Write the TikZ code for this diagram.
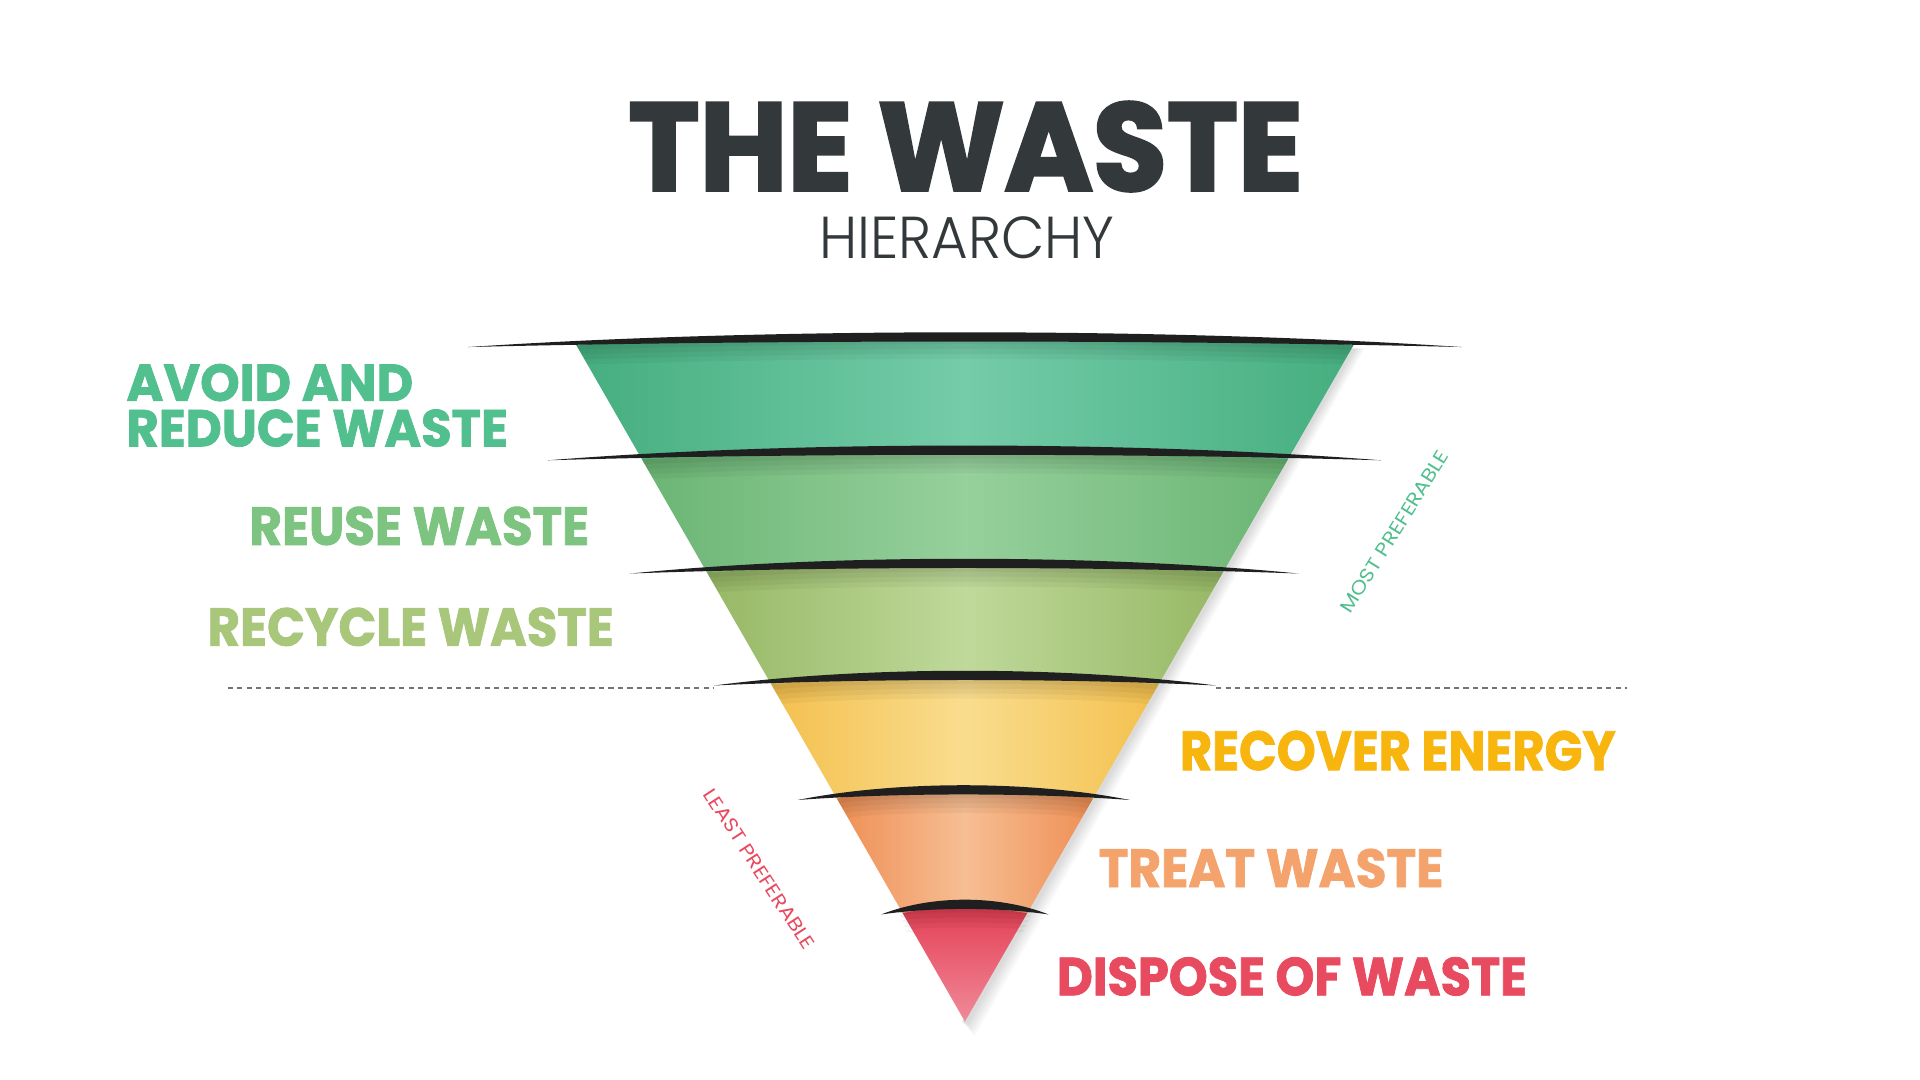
\documentclass[tikz,border=0pt]{standalone}
\usepackage{fontspec}
\usepackage{graphicx}
\setmainfont{Poppins}[BoldFeatures={FakeBold=1.5}]
\usetikzlibrary{calc}
\definecolor{tdark}{HTML}{33393B}
\definecolor{cA}{HTML}{52BF8F}\definecolor{cB}{HTML}{7CC47F}\definecolor{cC}{HTML}{A8C77A}
\definecolor{cD}{HTML}{F7B50D}\definecolor{cE}{HTML}{F3A36B}\definecolor{cF}{HTML}{E84A5F}
\newcommand{\fit}[3]{\resizebox{#1mm}{#2mm}{#3}}
\tikzset{lbl/.style={inner sep=0pt,anchor=north west,font=\bfseries},
 lens/.style={fill=black!88,draw=none},
 band/.style={draw=none}}
\begin{document}
\begin{tikzpicture}[x=0.1mm,y=-0.1mm]
\useasboundingbox (0,0) rectangle (1560,877.5);
\fill[white] (0,0) rectangle (1560,877.5);
\def\lx#1{468+0.574545*(#1-280)}
\def\rx#1{1100-0.574545*(#1-280)}
% soft shadow
\foreach \k in {1,...,6}{
 \fill[black,opacity=0.025] (1100+\k*1.5,283) -- (786+\k,830+\k*2) -- (782,830) -- (1098,283) -- cycle;}
% bands
\foreach \ya/\yb/\cl/\cm [count=\i] in {
 280/373/45AE7F/74CCA8,
 373/465/6BB574/96D09C,
 465/556/97B865/BFD99A,
 556/649/F4C04E/F9DD8E,
 649/742/EF8F55/F6BE93,
 742/830/E43F55/F08A98}{
 \definecolor{bl}{HTML}{\cl}\definecolor{bm}{HTML}{\cm}
 \ifnum\i=6
 \shade[band,top color=bl,bottom color=bm]
   ({\lx{\ya}},\ya) .. controls (760,\ya-6) and (800,\ya-6) .. ({\rx{\ya}},\ya) -- (784,830) -- cycle;
 \else
 \shade[band,left color=bl,right color=bl,middle color=bm]
   ({\lx{\ya}},\ya) .. controls (700,\ya-8) and (870,\ya-8) .. ({\rx{\ya}},\ya) -- ({\rx{\yb}},\yb) -- ({\lx{\yb}},\yb) -- cycle;
 \fi
 \foreach \s in {4,8,12,16}{
 \fill[black,opacity=0.04] ({\lx{\ya}},\ya) .. controls (700,\ya-6) and (870,\ya-6) .. ({\rx{\ya}},\ya) -- ({\rx{\ya+\s}},\ya+\s) .. controls (870,\ya+\s-6) and (700,\ya+\s-6) .. ({\lx{\ya+\s}},\ya+\s) -- cycle;}
}
% lenses
\foreach \a/\b/\y/\n in {380/1188/282/l1,445/1122/374/l2,512/1055/466/l3,580/988/557/l4,648/918/650/l5,716/852/743/l6}{
 \fill[lens] (\a,\y) .. controls ({\a+(\b-\a)*0.3},\y-16) and ({\b-(\b-\a)*0.3},\y-16) .. (\b,\y)
   .. controls ({\b-(\b-\a)*0.3},\y-6) and ({\a+(\b-\a)*0.3},\y-6) .. cycle;
 \coordinate (\n) at ({(\a+\b)/2},\y);
}
% dashed line
\coordinate (dl) at (185,559); \coordinate (dr) at (1322,559);
\coordinate (fl) at (580,559); \coordinate (fr) at (988,559);
\draw[black!55,dash pattern=on 1.2pt off 1pt,line width=0.35pt] (dl) -- (fl);
\draw[black!55,dash pattern=on 1.2pt off 1pt,line width=0.35pt] (fr) -- (dr);
% title
\node[lbl,text=tdark] (title) at (510,82) {\fit{54.8}{7.2}{\fontspec{Poppins}[FakeBold=2.5]THE WASTE}};
\node[lbl,text=tdark,font=\normalfont] (sub) at (665,175) {\fit{24}{3.4}{\fontspec{Poppins Light}HIERARCHY}};
% labels
\node[lbl,text=cA] (t1) at (102,295) {\fit{23.3}{3.0}{AVOID AND}};
\node[lbl,text=cA] (t1b) at (102,332) {\fit{31}{3.0}{REDUCE WASTE}};
\node[lbl,text=cB] (t2) at (202,411) {\fit{27.6}{3.1}{REUSE WASTE}};
\node[lbl,text=cC] (t3) at (168,493) {\fit{33}{3.1}{RECYCLE WASTE}};
\node[lbl,text=cD] (t4) at (958,593) {\fit{35.4}{3.2}{RECOVER ENERGY}};
\node[lbl,text=cE] (t5) at (892,689) {\fit{28}{3.1}{TREAT WASTE}};
\node[lbl,text=cF] (t6) at (858,777) {\fit{38.2}{3.1}{DISPOSE OF WASTE}};
% side labels
\node[text=cA,rotate=58,inner sep=0pt] (mp) at (1133,432) {\fit{15.2}{1.1}{MOST PREFERABLE}};
\node[text=cF,rotate=-57,inner sep=0pt] (lp) at (617,706) {\fit{15.2}{1.1}{LEAST PREFERABLE}};
\end{tikzpicture}
\end{document}
